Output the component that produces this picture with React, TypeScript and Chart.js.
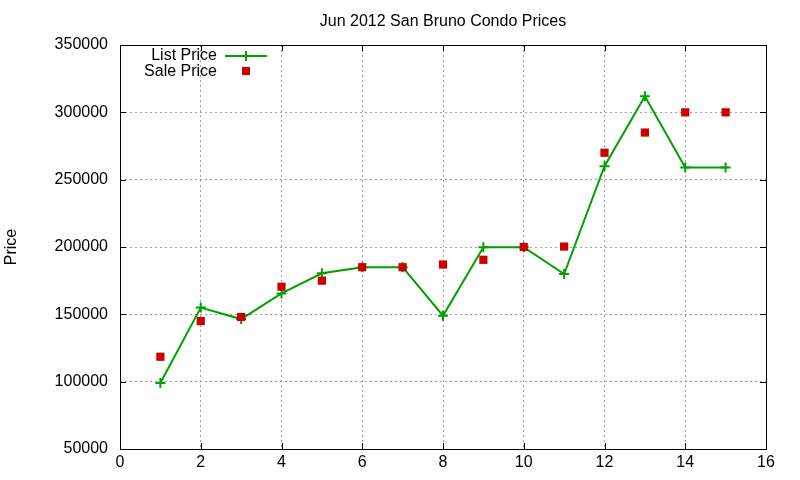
import { useEffect, useRef } from "react";
import { Chart, registerables } from "chart.js";

Chart.register(...registerables);

const days = [1, 2, 3, 4, 5, 6, 7, 8, 9, 10, 11, 12, 13, 14, 15];
const listPrice = [99000, 155000, 146500, 165500, 180500, 185000, 185000, 149000, 199900, 199900, 179900, 260000, 312000, 259000, 259000];
const salePrice = [118500, 145000, 148000, 170500, 175000, 185000, 185000, 187000, 190500, 200000, 200300, 270000, 285000, 300000, 300000];
const title = "Jun 2012 San Bruno Condo Prices";
const yTitle = "Price";
const listLabel = "List Price";
const saleLabel = "Sale Price";

const GREEN = "#00a000";
const RED = "#cc0000";
const FONT = "'Liberation Sans', Arial, sans-serif";

// gnuplot-ish frame: box, inward mirrored ticks, title, y label, legend
const framePlugin = {
  id: "frame",
  beforeDatasetsDraw(chart: Chart) {
    const { ctx, chartArea: a } = chart;
    const xs = chart.scales.x;
    const ys = chart.scales.y;
    ctx.save();
    ctx.strokeStyle = "#000";
    ctx.lineWidth = 1;
    ctx.strokeRect(Math.round(a.left) + 0.5, Math.round(a.top) + 0.5, Math.round(a.right - a.left), Math.round(a.bottom - a.top));
    ctx.beginPath();
    xs.ticks.forEach((t) => {
      const px = Math.round(xs.getPixelForValue(t.value)) + 0.5;
      ctx.moveTo(px, a.bottom);
      ctx.lineTo(px, a.bottom - 6);
      ctx.moveTo(px, a.top);
      ctx.lineTo(px, a.top + 6);
    });
    ys.ticks.forEach((t) => {
      const py = Math.round(ys.getPixelForValue(t.value)) + 0.5;
      ctx.moveTo(a.left, py);
      ctx.lineTo(a.left + 6, py);
      ctx.moveTo(a.right, py);
      ctx.lineTo(a.right - 6, py);
    });
    ctx.stroke();
    ctx.restore();
  },
  afterDraw(chart: Chart) {
    const { ctx, chartArea: a } = chart;
    ctx.save();
    ctx.fillStyle = "#000";
    ctx.font = `16px ${FONT}`;
    ctx.textAlign = "center";
    ctx.textBaseline = "middle";
    ctx.fillText(title, (a.left + a.right) / 2, 22);

    ctx.save();
    ctx.translate(12, (a.top + a.bottom) / 2);
    ctx.rotate(-Math.PI / 2);
    ctx.fillText(yTitle, 0, 0);
    ctx.restore();

    // legend
    ctx.textAlign = "right";
    ctx.fillText(listLabel, 217, 56);
    ctx.fillText(saleLabel, 217, 72);
    ctx.strokeStyle = GREEN;
    ctx.lineWidth = 2;
    ctx.beginPath();
    ctx.moveTo(225, 56);
    ctx.lineTo(267, 56);
    ctx.moveTo(246, 51);
    ctx.lineTo(246, 61);
    ctx.stroke();
    ctx.fillStyle = RED;
    ctx.fillRect(242, 67, 8, 8);
    ctx.restore();
  },
};

export default function App() {
  const ref = useRef<HTMLCanvasElement>(null);

  useEffect(() => {
    const canvas = ref.current;
    if (!canvas) return;
    Chart.defaults.font.family = FONT;
    Chart.defaults.font.size = 16;
    Chart.defaults.color = "#000";

    const chart = new Chart(canvas, {
      type: "scatter",
      data: {
        datasets: [
          {
            label: listLabel,
            data: days.map((d, i) => ({ x: d, y: listPrice[i] })),
            showLine: true,
            borderColor: GREEN,
            backgroundColor: GREEN,
            borderWidth: 2,
            pointStyle: "cross",
            pointRadius: 5,
            pointBorderWidth: 2,
            pointBorderColor: GREEN,
            order: 1,
          },
          {
            label: saleLabel,
            data: days.map((d, i) => ({ x: d, y: salePrice[i] })),
            showLine: false,
            pointStyle: "rect",
            pointRadius: 5.8,
            pointBorderWidth: 0,
            backgroundColor: RED,
            borderColor: RED,
            order: 0,
          },
        ],
      },
      options: {
        animation: false,
        responsive: false,
        devicePixelRatio: 1,
        layout: { padding: { top: 45, right: 34, left: 0, bottom: 0 } },
        plugins: {
          legend: { display: false },
          title: { display: false },
          tooltip: { enabled: false },
        },
        scales: {
          x: {
            type: "linear",
            min: 0,
            max: 16,
            ticks: { stepSize: 2, padding: 4, color: "#000", font: { size: 16 } },
            grid: { color: "#a0a0a0", lineWidth: 1, drawTicks: false },
            border: { display: false, dash: [2, 3] },
            afterFit: (s: any) => {
              s.height = 31;
            },
          },
          y: {
            type: "linear",
            min: 50000,
            max: 350000,
            ticks: {
              stepSize: 50000,
              padding: 12,
              color: "#000",
              font: { size: 16 },
              callback: (v: any) => String(v),
            },
            grid: { color: "#a0a0a0", lineWidth: 1, drawTicks: false },
            border: { display: false, dash: [2, 3] },
            afterFit: (s: any) => {
              s.width = 120;
            },
          },
        },
      },
      plugins: [framePlugin],
    });
    return () => chart.destroy();
  }, []);

  return (
    <div style={{ position: "fixed", left: 0, top: 0, width: 800, height: 480, background: "#fff" }}>
      <canvas ref={ref} width={800} height={480} />
    </div>
  );
}
